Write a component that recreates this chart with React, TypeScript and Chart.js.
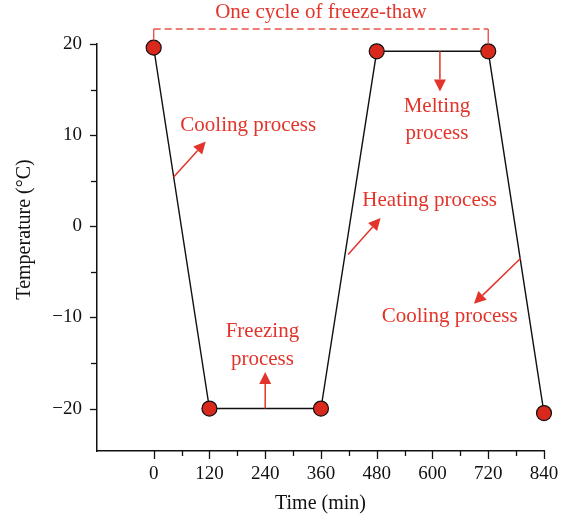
import { useEffect, useRef } from "react";
import { Chart, registerables } from "chart.js";

Chart.register(...registerables);

// Temperature programme of one freeze-thaw cycle
const times = [0, 120, 360, 480, 720, 840];
const temperatures = [19.6, -20, -20, 19.2, 19.2, -20.5];

// Axis ticks
const xTickValues = [0, 60, 120, 180, 240, 300, 360, 420, 480, 540, 600, 660, 720, 780, 840];
const xLabelValues = [0, 120, 240, 360, 480, 600, 720, 840];
const yTickValues = [-20, -15, -10, -5, 0, 5, 10, 15, 20];
const yLabelValues = [-20, -10, 0, 10, 20];

// Process labels, placed in data coordinates (min, °C)
const noteTexts = ["Cooling process", "Melting", "process", "Freezing", "process", "Heating process", "Cooling process"];
const noteTimes = [203.5, 609.5, 609.5, 234, 234, 594, 637];
const noteTemps = [11.1, 13.1, 10.2, -11.6, -14.6, 2.8, -9.9];

// Arrows from the curve towards each label
const arrowFromTimes = [43, 616, 240, 418.5, 789.8];
const arrowFromTemps = [5.4, 19.2, -20, -3.1, -3.5];
const arrowToTimes = [112, 616, 240, 488.3, 689.2];
const arrowToTemps = [9.3, 14.8, -16.0, 0.9, -8.5];

// Bracket marking one cycle
const cycleTitle = "One cycle of freeze-thaw";
const cycleStartIndex = 0;
const cycleEndIndex = 4;
const cycleLevel = 21.65;
const cycleTitleLevel = 23.5;

const RED = "#e2342a";
const POINT_RED = "#d9281c";
const FONT = "'Liberation Serif', 'Times New Roman', serif";
const POINT_RADIUS = 7.5;

const fmt = (v: number) => (v < 0 ? "\u2212" + Math.abs(v) : String(v));

function arrow(ctx: CanvasRenderingContext2D, x0: number, y0: number, x1: number, y1: number) {
  const ang = Math.atan2(y1 - y0, x1 - x0);
  const head = 12;
  const half = 6;
  const bx = x1 - head * Math.cos(ang);
  const by = y1 - head * Math.sin(ang);
  ctx.beginPath();
  ctx.moveTo(x0, y0);
  ctx.lineTo(bx, by);
  ctx.stroke();
  ctx.beginPath();
  ctx.moveTo(x1, y1);
  ctx.lineTo(bx + half * Math.sin(ang), by - half * Math.cos(ang));
  ctx.lineTo(bx - half * Math.sin(ang), by + half * Math.cos(ang));
  ctx.closePath();
  ctx.fill();
}

const decorations = {
  id: "decorations",
  afterDraw(chart: any) {
    const ctx: CanvasRenderingContext2D = chart.ctx;
    const xs = chart.scales.x;
    const ys = chart.scales.y;
    const area = chart.chartArea;
    ctx.save();

    // tick marks (outward, minor ticks shorter on the time axis)
    ctx.strokeStyle = "#111";
    ctx.lineWidth = 1.3;
    xTickValues.forEach((v) => {
      const px = Math.round(xs.getPixelForValue(v)) + 0.5;
      const len = v % 120 === 0 ? 8 : 5;
      ctx.beginPath();
      ctx.moveTo(px, area.bottom);
      ctx.lineTo(px, area.bottom + len);
      ctx.stroke();
    });
    yTickValues.forEach((v) => {
      const py = Math.round(ys.getPixelForValue(v)) + 0.5;
      const len = v % 10 === 0 ? 7 : 6;
      ctx.beginPath();
      ctx.moveTo(area.left, py);
      ctx.lineTo(area.left - len, py);
      ctx.stroke();
    });

    // y-axis title
    ctx.fillStyle = "#111";
    ctx.font = `20px ${FONT}`;
    ctx.textAlign = "center";
    ctx.textBaseline = "middle";
    ctx.save();
    ctx.translate(25, ys.getPixelForValue(-0.35));
    ctx.rotate(-Math.PI / 2);
    ctx.fillText("Temperature (\u00B0C)", 0, 0);
    ctx.restore();

    // one-cycle bracket
    const bx0 = xs.getPixelForValue(times[cycleStartIndex]);
    const bx1 = xs.getPixelForValue(times[cycleEndIndex]);
    const by = ys.getPixelForValue(cycleLevel);
    const leg0 = ys.getPixelForValue(temperatures[cycleStartIndex]) - POINT_RADIUS;
    const leg1 = ys.getPixelForValue(temperatures[cycleEndIndex]) - POINT_RADIUS;
    ctx.strokeStyle = "#e8544a";
    ctx.lineWidth = 1.4;
    ctx.setLineDash([7, 4]);
    ctx.beginPath();
    ctx.moveTo(bx0, by);
    ctx.lineTo(bx1, by);
    ctx.stroke();
    ctx.setLineDash([]);
    ctx.beginPath();
    ctx.moveTo(bx0, by);
    ctx.lineTo(bx0, leg0);
    ctx.moveTo(bx1, by);
    ctx.lineTo(bx1, leg1);
    ctx.stroke();

    ctx.fillStyle = RED;
    ctx.font = `21px ${FONT}`;
    ctx.fillText(cycleTitle, xs.getPixelForValue((times[cycleStartIndex] + times[cycleEndIndex]) / 2), ys.getPixelForValue(cycleTitleLevel));

    // process labels
    noteTexts.forEach((t, i) => {
      ctx.fillText(t, xs.getPixelForValue(noteTimes[i]), ys.getPixelForValue(noteTemps[i]));
    });

    // arrows
    ctx.strokeStyle = RED;
    ctx.fillStyle = RED;
    ctx.lineWidth = 1.5;
    arrowFromTimes.forEach((_, i) => {
      arrow(
        ctx,
        xs.getPixelForValue(arrowFromTimes[i]),
        ys.getPixelForValue(arrowFromTemps[i]),
        xs.getPixelForValue(arrowToTimes[i]),
        ys.getPixelForValue(arrowToTemps[i])
      );
    });

    ctx.restore();
  },
};

export default function App() {
  const canvasRef = useRef<HTMLCanvasElement | null>(null);

  useEffect(() => {
    const canvas = canvasRef.current;
    if (!canvas) return;
    const chart = new Chart(canvas, {
      type: "line",
      data: {
        datasets: [
          {
            data: times.map((t, i) => ({ x: t, y: temperatures[i] })),
            borderColor: "#111",
            borderWidth: 1.4,
            tension: 0,
            pointRadius: POINT_RADIUS,
            pointBackgroundColor: POINT_RED,
            pointBorderColor: "#111",
            pointBorderWidth: 1.2,
            clip: false,
          },
        ],
      },
      options: {
        responsive: false,
        animation: false,
        layout: { padding: { top: 44, right: 26, left: 0, bottom: 0 } },
        plugins: { legend: { display: false }, tooltip: { enabled: false } },
        scales: {
          x: {
            type: "linear",
            min: -122,
            max: 840,
            afterBuildTicks: (s: any) => {
              s.ticks = xLabelValues.map((v) => ({ value: v }));
            },
            afterFit: (s: any) => {
              s.height = 69;
            },
            grid: { display: false, drawTicks: true, tickLength: 8 },
            border: { display: true, color: "#111", width: 1.5 },
            ticks: {
              autoSkip: false,
              maxRotation: 0,
              padding: 4,
              color: "#111",
              font: { family: FONT, size: 19 },
              callback: (v: any) => fmt(Number(v)),
            },
            title: {
              display: true,
              text: "Time (min)",
              color: "#111",
              font: { family: FONT, size: 20 },
              padding: { top: 0, bottom: 4 },
            },
          },
          y: {
            type: "linear",
            min: -24.66,
            max: 20,
            afterBuildTicks: (s: any) => {
              s.ticks = yLabelValues.map((v) => ({ value: v }));
            },
            afterFit: (s: any) => {
              s.width = 97;
            },
            grid: { display: false, drawTicks: true, tickLength: 7 },
            border: { display: true, color: "#111", width: 1.5 },
            ticks: {
              padding: 8,
              color: "#111",
              font: { family: FONT, size: 19 },
              callback: (v: any) => fmt(Number(v)),
            },
          },
        },
      },
      plugins: [decorations],
    });
    return () => chart.destroy();
  }, []);

  return (
    <div style={{ position: "absolute", left: 0, top: 0, width: 570, height: 520, background: "#fff" }}>
      <canvas ref={canvasRef} width={570} height={520} style={{ display: "block" }} />
    </div>
  );
}
